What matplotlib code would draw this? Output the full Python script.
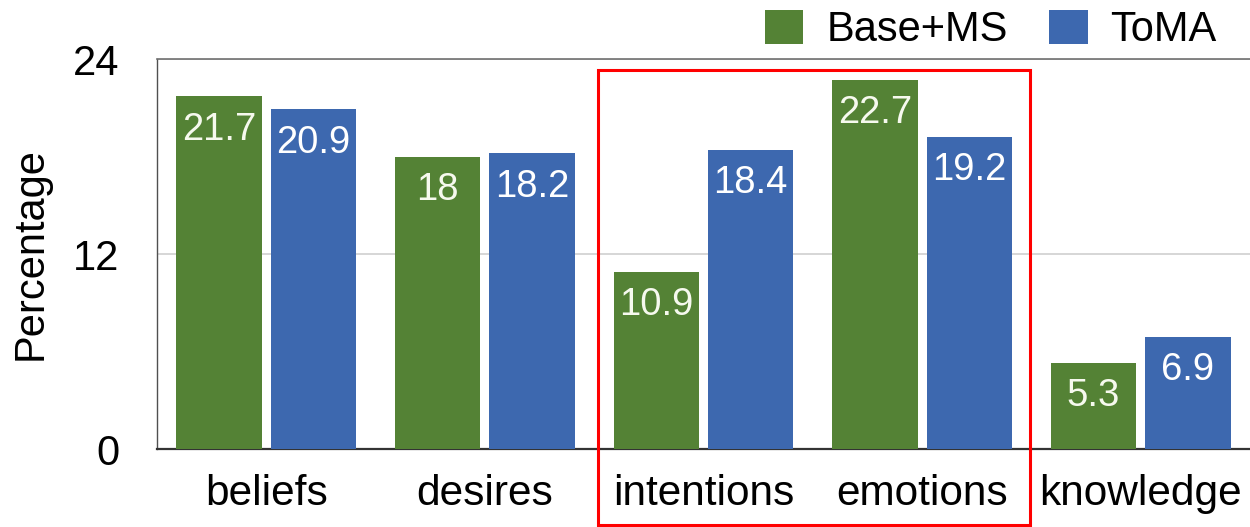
import matplotlib
matplotlib.use("Agg")
import matplotlib.pyplot as plt
from matplotlib.patches import Rectangle
import numpy as np

categories = ["beliefs", "desires", "intentions", "emotions", "knowledge"]
base_ms = [21.7, 18, 10.9, 22.7, 5.3]
toma = [20.9, 18.2, 18.4, 19.2, 6.9]
series_names = ["Base+MS", "ToMA"]
yticks = [0, 12, 24]

GREEN = "#548235"
BLUE = "#3D68AF"

plt.rcParams["font.family"] = ["Liberation Sans", "DejaVu Sans"]

fig = plt.figure(figsize=(12.5, 5.27), dpi=100)
ax = fig.add_axes([0.1256, 0.148, 0.8744, 0.74])

x = np.arange(len(categories))
width = 0.39
off = 0.216

bars_g = ax.bar(x - off, base_ms, width, color=GREEN, label=series_names[0], zorder=3)
bars_b = ax.bar(x + off, toma, width, color=BLUE, label=series_names[1], zorder=3)

for bars, vals, tc in ((bars_g, base_ms, "#f6f9ee"), (bars_b, toma, "white")):
    for b, v in zip(bars, vals):
        ax.annotate(f"{v:g}", xy=(b.get_x() + b.get_width() / 2, v),
                    xytext=(0, -11), textcoords="offset points",
                    ha="center", va="top", fontsize=27.5, color=tc, zorder=4)

ax.set_xlim(-0.5, len(categories) - 0.5)
ax.set_ylim(0, 24)
ax.set_yticks(yticks)
ax.set_yticklabels([str(t) for t in yticks], fontsize=30)
ax.set_xticks(x)
ax.set_xticklabels(categories, fontsize=30.5)
ax.tick_params(axis="y", length=0, pad=27)
ax.tick_params(axis="x", length=0, pad=18)

ax.yaxis.grid(True, color="#cfcfcf", linewidth=1.2, zorder=0)
ax.set_axisbelow(True)

ax.spines["right"].set_visible(False)
ax.spines["top"].set_color("#707070")
ax.spines["top"].set_linewidth(1.2)
ax.spines["left"].set_color("#505050")
ax.spines["left"].set_linewidth(1.0)
ax.spines["bottom"].set_color("#333333")
ax.spines["bottom"].set_linewidth(1.6)

ax.set_ylabel("Percentage", fontsize=30)
ax.yaxis.set_label_coords(-0.097, 0.5)

# highlight box around intentions / emotions
rect = Rectangle((1.518, -4.66), 3.495 - 1.518, 23.3 + 4.66, fill=False,
                 edgecolor="#ff0000", linewidth=2.2, clip_on=False, zorder=5)
ax.add_patch(rect)

fig.legend(handles=[bars_g, bars_b], labels=series_names, loc="center left",
           bbox_to_anchor=(0.612, 0.943), ncol=2, frameon=False, fontsize=30,
           borderpad=0, borderaxespad=0, handlelength=0.92, handleheight=0.88,
           handletextpad=0.55, columnspacing=1.0)

fig.savefig("out.png", dpi=100)
